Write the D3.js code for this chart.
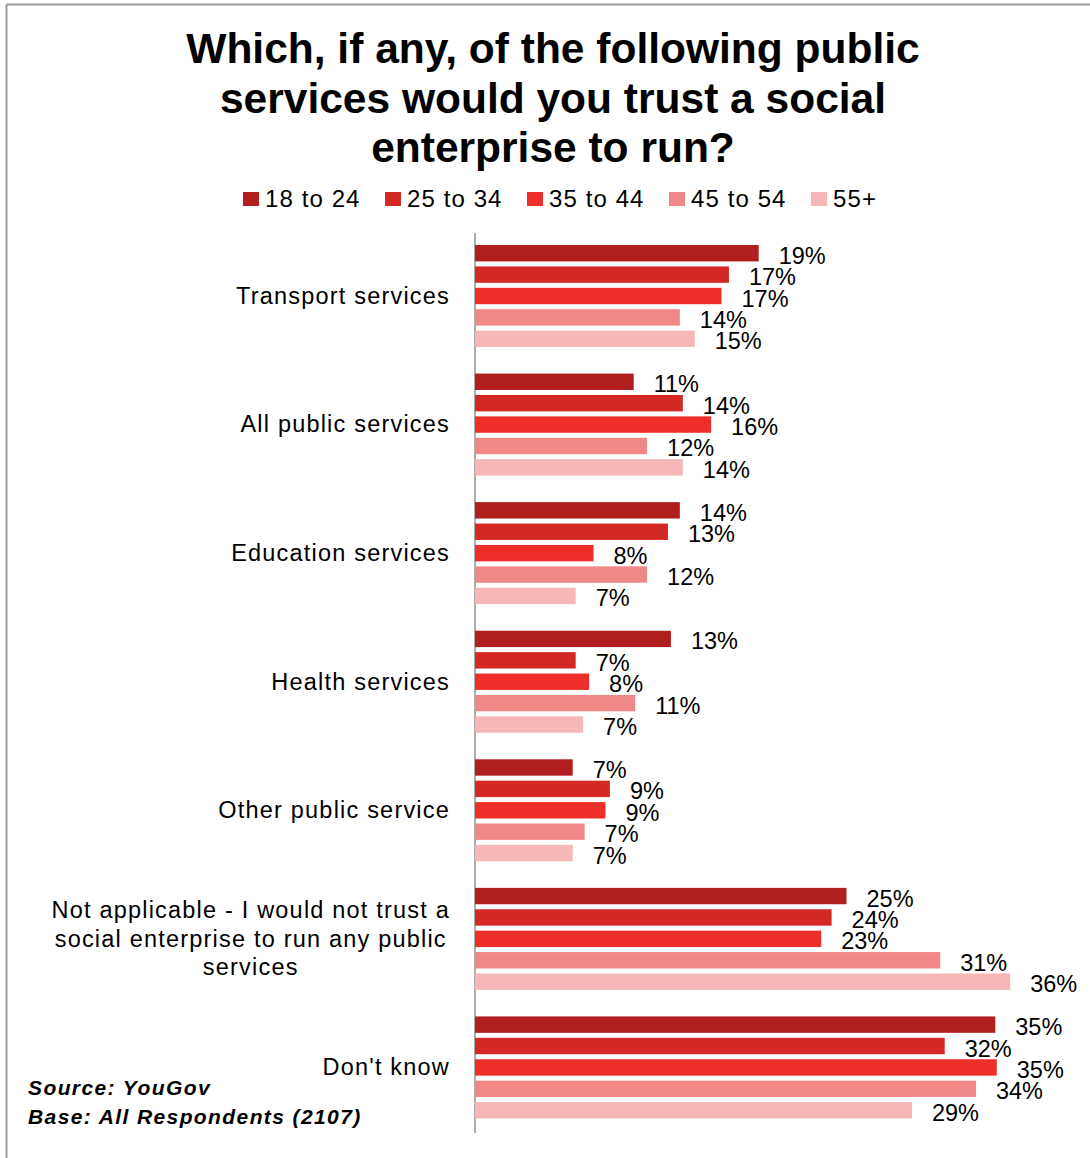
<!DOCTYPE html>
<html>
<head>
<meta charset="utf-8">
<script src="https://cdn.jsdelivr.net/npm/d3@7"></script>
<style>
  html, body { margin: 0; padding: 0; background: #fff; }
  svg { display: block; }
  text { font-family: "Liberation Sans", Arial, sans-serif; fill: #000; }
</style>
</head>
<body>
<svg id="chart" width="1090" height="1158"></svg>
<script>
const titleLines = ["Which, if any, of the following public", "services would you trust a social", "enterprise to run?"];
const categories = [
  "Transport services",
  "All public services",
  "Education services",
  "Health services",
  "Other public service",
  "Not applicable - I would not trust a social enterprise to run any public services",
  "Don't know"
];
const ageGroups = ["18 to 24", "25 to 34", "35 to 44", "45 to 54", "55+"];
const colors = ["#b01f1e", "#d42824", "#ee2e29", "#f08888", "#f5b7b7"];
const age18to24 = [19.1, 10.7, 13.8, 13.2, 6.6, 25.0, 35.0];
const age25to34 = [17.1, 14.0, 13.0, 6.8, 9.1, 24.0, 31.6];
const age35to44 = [16.6, 15.9, 8.0, 7.7, 8.8, 23.3, 35.1];
const age45to54 = [13.8, 11.6, 11.6, 10.8, 7.4, 31.3, 33.7];
const age55plus = [14.8, 14.0, 6.8, 7.3, 6.6, 36.0, 29.4];
const seriesValues = [age18to24, age25to34, age35to44, age45to54, age55plus];
const footnotes = ["Source: YouGov", "Base: All Respondents (2107)"];

const svg = d3.select("#chart");

// frame (top and left edges visible)
svg.append("line").attr("x1", 6.5).attr("x2", 1090).attr("y1", 4.5).attr("y2", 4.5)
  .attr("stroke", "#9a9a9a").attr("stroke-width", 2);
svg.append("line").attr("x1", 6.5).attr("x2", 6.5).attr("y1", 4.5).attr("y2", 1158)
  .attr("stroke", "#9a9a9a").attr("stroke-width", 2);

// title
svg.append("g").selectAll("text").data(titleLines).join("text")
  .attr("x", 553).attr("y", (d, i) => 63 + i * 49.5)
  .attr("text-anchor", "middle")
  .style("font-size", "42.5px").style("font-weight", "bold")
  .text(d => d);

// legend
const legend = svg.append("g").selectAll("g").data(ageGroups).join("g")
  .attr("transform", (d, i) => `translate(${243 + i * 142},0)`);
legend.append("rect").attr("x", 0).attr("y", 192).attr("width", 16).attr("height", 14)
  .attr("fill", (d, i) => colors[i]);
legend.append("text").attr("x", 22).attr("y", 207)
  .style("font-size", "24px").style("letter-spacing", "1.1px")
  .text(d => d);

// scales
const x = d3.scaleLinear().domain([0, 40]).range([474.5, 474.5 + 40 * 14.88]);
const y = d3.scaleBand().domain(categories).range([232.5, 1132.5]).padding(0);
const yInner = d3.scaleBand().domain(d3.range(ageGroups.length)).range([12.5, 114.5]).paddingInner(0.234).paddingOuter(0);

// axis
const axis = svg.append("g").attr("transform", `translate(${x(0)},0)`)
  .call(d3.axisLeft(y).tickSize(0).tickSizeOuter(0).tickFormat(() => ""));
axis.select(".domain").attr("stroke", "#999").attr("stroke-width", 1.6);

// bars
const groups = svg.append("g").selectAll("g").data(categories).join("g")
  .attr("transform", d => `translate(0,${y(d)})`);

groups.each(function (cat, ci) {
  const g = d3.select(this);
  const rows = seriesValues.map((vals, si) => ({ si, v: vals[ci] }));
  g.selectAll("rect").data(rows).join("rect")
    .attr("x", x(0) + 0.5)
    .attr("y", d => yInner(d.si))
    .attr("width", d => x(d.v) - x(0) - 0.5)
    .attr("height", yInner.bandwidth())
    .attr("fill", d => colors[d.si]);
  g.selectAll("text.val").data(rows).join("text").attr("class", "val")
    .attr("x", d => x(d.v) + 20)
    .attr("y", d => yInner(d.si) + yInner.bandwidth() / 2 + 10.5)
    .style("font-size", "23.5px")
    .text(d => Math.round(d.v) + "%");
});

// category labels with wrapping
const labelRight = 449;
const maxW = 410;
const lineH = 28.5;
categories.forEach(cat => {
  const cy = y(cat) + y.bandwidth() / 2;
  const t = svg.append("text")
    .style("font-size", "23.5px").style("letter-spacing", "1.2px");
  const words = cat.split(" ");
  const lines = [];
  let cur = [];
  const probe = t.append("tspan");
  words.forEach(w => {
    const test = cur.concat([w]).join(" ");
    probe.text(test);
    if (probe.node().getComputedTextLength() > maxW && cur.length) {
      lines.push(cur.join(" "));
      cur = [w];
    } else {
      cur.push(w);
    }
  });
  lines.push(cur.join(" "));
  probe.remove();
  if (lines.length === 1) {
    t.attr("x", labelRight + 1).attr("y", cy + 7).attr("text-anchor", "end").text(lines[0]);
  } else {
    let widest = 0;
    lines.forEach(l => {
      const p = t.append("tspan").text(l);
      widest = Math.max(widest, p.node().getComputedTextLength());
      p.remove();
    });
    const cx = labelRight + 1 - widest / 2;
    t.attr("text-anchor", "middle");
    lines.forEach((l, i) => {
      t.append("tspan").attr("x", cx)
        .attr("y", cy + 7 + (i - (lines.length - 1) / 2) * lineH)
        .text(l);
    });
  }
});

// footnotes
svg.append("g").selectAll("text").data(footnotes).join("text")
  .attr("x", 28).attr("y", (d, i) => 1095 + i * 28.5)
  .style("font-size", "21px").style("font-weight", "bold").style("font-style", "italic")
  .style("letter-spacing", "1.4px")
  .text(d => d);
</script>
</body>
</html>
